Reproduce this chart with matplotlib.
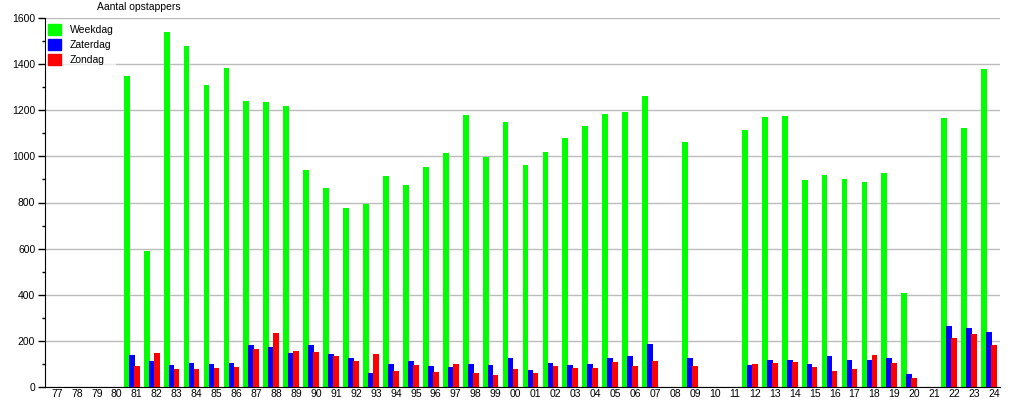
import matplotlib
matplotlib.use('Agg')
import matplotlib.pyplot as plt
import matplotlib.patches as mpatches
import numpy as np

plt.rcParams['font.family'] = ['Liberation Sans', 'DejaVu Sans']

# jaartallen (77 t/m 24)
jaren = ['77', '78', '79', '80', '81', '82', '83', '84', '85', '86', '87', '88',
         '89', '90', '91', '92', '93', '94', '95', '96', '97', '98', '99', '00',
         '01', '02', '03', '04', '05', '06', '07', '08', '09', '10', '11', '12',
         '13', '14', '15', '16', '17', '18', '19', '20', '21', '22', '23', '24']

weekdag = [0, 0, 0, 0, 1350, 590, 1540, 1480, 1310, 1383, 1240, 1236,
           1219, 941, 863, 776, 794, 915, 876, 954, 1015, 1180, 997, 1149,
           963, 1019, 1080, 1132, 1184, 1193, 1262, 0, 1062, 0, 0, 1114,
           1171, 1175, 898, 919, 902, 889, 928, 408, 0, 1167, 1123, 1379]

zaterdag = [0, 0, 0, 0, 137, 111, 94, 103, 98, 103, 181, 172,
            146, 181, 142, 124, 59, 98, 111, 90, 85, 98, 94, 124,
            72, 103, 94, 98, 124, 133, 185, 0, 124, 0, 0, 94,
            116, 116, 98, 133, 116, 116, 124, 55, 0, 263, 254, 237]

zondag = [0, 0, 0, 0, 90, 146, 77, 77, 81, 85, 163, 233,
          155, 150, 133, 111, 142, 68, 94, 64, 98, 59, 51, 77,
          59, 90, 81, 81, 107, 90, 111, 0, 90, 0, 0, 98,
          103, 107, 85, 68, 77, 137, 103, 38, 0, 211, 228, 181]

x = np.arange(len(jaren))
w = 0.29

fig = plt.figure(figsize=(10.15, 4.0), dpi=100)
ax = fig.add_axes([45 / 1015, 13 / 400, 955 / 1015, 369 / 400])

ax.bar(x - 0.5, weekdag, w, color='#00ff00', zorder=2)
ax.bar(x - 0.25, zaterdag, w, color='#0000ff', zorder=2)
ax.bar(x, zondag, w, color='#ff0000', zorder=2)

ax.set_xlim(-0.6, 47.3)
ax.set_ylim(0, 1600)
ax.set_xticks(x)
ax.set_xticklabels(jaren)
ax.set_yticks(np.arange(0, 1601, 200))
ax.set_yticks(np.arange(100, 1600, 200), minor=True)
ax.tick_params(axis='x', length=0, labelsize=7.5, pad=1.5)
ax.tick_params(axis='y', which='major', length=5, width=1, labelsize=7.5, pad=2)
ax.tick_params(axis='y', which='minor', length=2, width=1)

ax.grid(axis='y', color='#bcbcbc', linewidth=1)
ax.set_axisbelow(True)
ax.spines['top'].set_visible(False)
ax.spines['right'].set_visible(False)

fig.text(97 / 1015, 1 - 7 / 400, 'Aantal opstappers', fontsize=7.5, va='center', ha='left')

handles = [mpatches.Patch(color='#00ff00', label='Weekdag'),
           mpatches.Patch(color='#0000ff', label='Zaterdag'),
           mpatches.Patch(color='#ff0000', label='Zondag')]
leg = ax.legend(handles=handles, loc='upper left', bbox_to_anchor=(-0.001, 0.995),
                fontsize=7.5, handlelength=1.25, handleheight=1.25, labelspacing=0.4,
                handletextpad=0.85, borderpad=0.2, borderaxespad=0.2,
                frameon=True, fancybox=False)
leg.get_frame().set_facecolor('white')
leg.get_frame().set_edgecolor('none')
leg.get_frame().set_alpha(0.7)

plt.savefig('out.png', dpi=100)
